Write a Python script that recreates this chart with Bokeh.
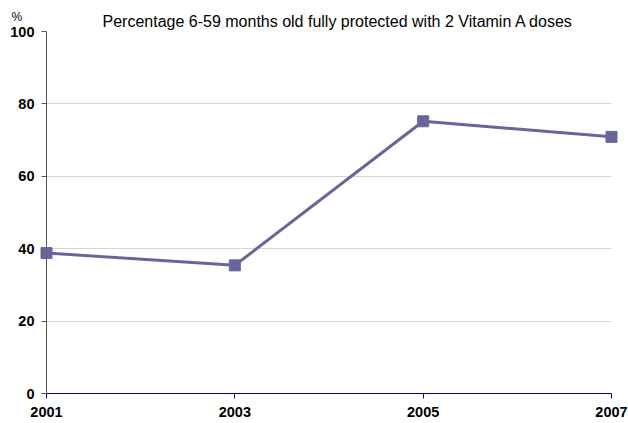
from bokeh.plotting import figure
from bokeh.models import Range1d, FixedTicker
from bokeh.core.properties import value
from bokeh.embed import file_html
from bokeh.resources import INLINE

years = [2001, 2003, 2005, 2007]
year_labels = ["2001", "2003", "2005", "2007"]
values = [38.8, 35.4, 75.2, 70.9]
y_ticks = [0, 20, 40, 60, 80, 100]
title_text = "Percentage 6-59 months old fully protected with 2 Vitamin A doses"
unit_text = "%"

FONT = "Liberation Sans"
LINE = "#666699"

x_start, x_end = years[0], years[-1]
y_start, y_end = y_ticks[0], y_ticks[-1]

p = figure(width=628, height=423, output_backend="svg", toolbar_location=None,
           x_range=Range1d(x_start, x_end), y_range=Range1d(y_start, y_end),
           min_border_left=46, min_border_right=17, min_border_top=31, min_border_bottom=30)
p.outline_line_color = None
p.background_fill_color = "white"

p.title.text = title_text
p.title.align = "left"
p.title.offset = 56
p.title.standoff = 4
p.title.text_font = FONT
p.title.text_font_style = "normal"
p.title.text_font_size = "16px"
p.title.text_color = "black"

p.xaxis.ticker = FixedTicker(ticks=years)
p.xaxis.major_label_overrides = {y: l for y, l in zip(years, year_labels)}
p.yaxis.ticker = FixedTicker(ticks=y_ticks)

p.xaxis.axis_line_color = "#000080"
p.xaxis.major_tick_line_color = "#000080"
p.xaxis.major_tick_in = 0
p.xaxis.major_tick_out = 5
p.xaxis.minor_tick_line_color = None
p.xaxis.major_label_standoff = 8
p.xaxis.major_label_text_font = FONT
p.xaxis.major_label_text_font_style = "bold"
p.xaxis.major_label_text_font_size = "14.5px"
p.xaxis.major_label_text_color = "black"

p.yaxis.axis_line_color = "#555555"
p.yaxis.major_tick_line_color = "#555555"
p.yaxis.major_tick_in = 0
p.yaxis.major_tick_out = 5
p.yaxis.minor_tick_line_color = None
p.yaxis.major_label_standoff = 7
p.yaxis.major_label_text_font = FONT
p.yaxis.major_label_text_font_style = "bold"
p.yaxis.major_label_text_font_size = "14.5px"
p.yaxis.major_label_text_color = "black"

p.xgrid.grid_line_color = None
p.ygrid.grid_line_color = "#d4d4d4"
p.ygrid.grid_line_width = 1

p.line(years, values, line_color=LINE, line_width=3, level="overlay")
p.scatter(years, values, marker="square", size=11, fill_color=LINE, line_color=LINE,
          level="overlay")

# unit label above the value axis (drawn as an unclipped text glyph)
p.text(x=[x_start], y=[y_end], text=[unit_text], x_offset=-35, y_offset=-15,
       text_align="left", text_baseline="alphabetic", text_font=value(FONT),
       text_font_size="12px", text_color="black", level="overlay")

open("out.html", "w").write(file_html(p, INLINE))
